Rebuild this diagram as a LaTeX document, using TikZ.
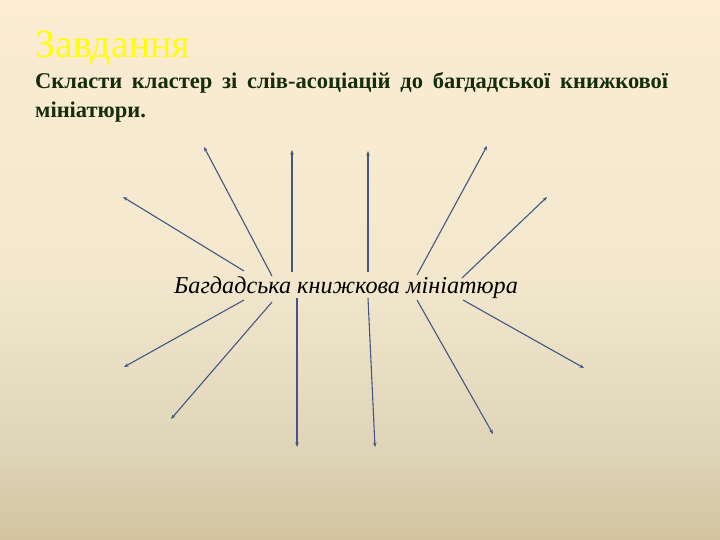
\documentclass[tikz,border=0pt]{standalone}
\usepackage{fontspec}
\setmainfont{Liberation Serif}
\usetikzlibrary{arrows.meta}
\definecolor{creamtop}{RGB}{251,236,210}
\definecolor{creammid}{RGB}{243,232,206}
\definecolor{sandlight}{RGB}{223,214,186}
\definecolor{sand}{RGB}{210,196,158}
\definecolor{titleyellow}{RGB}{255,255,0}
\definecolor{taskgreen}{RGB}{22,45,12}
\definecolor{rayblue}{RGB}{66,88,128}
\pgfdeclareverticalshading{slidebg}{100bp}{color(0bp)=(sand); color(25bp)=(sand); color(34bp)=(sandlight); color(50bp)=(creammid); color(75bp)=(creamtop); color(100bp)=(creamtop)}
\tikzset{ray/.style={draw=rayblue, line width=1.1pt, -{Stealth[length=4.5pt,width=3.5pt]}}}

\begin{document}
\begin{tikzpicture}[x=1pt,y=-1pt]
    \shade[shading=slidebg] (0,0) rectangle (720,540);
    \useasboundingbox (0,0) rectangle (720,540);
    \node[anchor=base west,inner sep=0,text=titleyellow,font=\fontsize{40}{48}\selectfont] (title) at (35,58) {Завдання};
    \node[anchor=north west,inner sep=0,text width=633pt,align=justify,text=taskgreen,font=\bfseries\fontsize{22.5}{29}\selectfont] (task) at (35,72) {Скласти кластер зі слів-асоціацій до багдадської книжкової\linebreak мініатюри.};
    \node[anchor=base,inner sep=0,font=\itshape\fontsize{24.2}{30}\selectfont] (topic) at (346,293) {Багдадська книжкова мініатюра};

    % rays above the topic
    \coordinate (A1) at (244,271); \coordinate (B1) at (123,197);
    \coordinate (A2) at (272,276); \coordinate (B2) at (204,147);
    \coordinate (A3) at (292,272); \coordinate (B3) at (292,150);
    \coordinate (A4) at (368,272); \coordinate (B4) at (368,151);
    \coordinate (A5) at (417,275); \coordinate (B5) at (487,146);
    \coordinate (A6) at (462,278); \coordinate (B6) at (547,197);
    \draw[ray] (A1) -- (B1);
    \draw[ray] (A2) -- (B2);
    \draw[ray] (A3) -- (B3);
    \draw[ray] (A4) -- (B4);
    \draw[ray] (A5) -- (B5);
    \draw[ray] (A6) -- (B6);

    % rays below the topic
    \coordinate (C1) at (244,300); \coordinate (D1) at (124,367);
    \coordinate (C2) at (272,302); \coordinate (D2) at (171,419);
    \coordinate (C3) at (297,298); \coordinate (D3) at (297,447);
    \coordinate (C4) at (368,298); \coordinate (D4) at (375,447);
    \coordinate (C5) at (417,300); \coordinate (D5) at (493,434);
    \coordinate (C6) at (463,300); \coordinate (D6) at (584,368);
    \draw[ray] (C1) -- (D1);
    \draw[ray] (C2) -- (D2);
    \draw[ray] (C3) -- (D3);
    \draw[ray] (C4) -- (D4);
    \draw[ray] (C5) -- (D5);
    \draw[ray] (C6) -- (D6);
\end{tikzpicture}
\end{document}
